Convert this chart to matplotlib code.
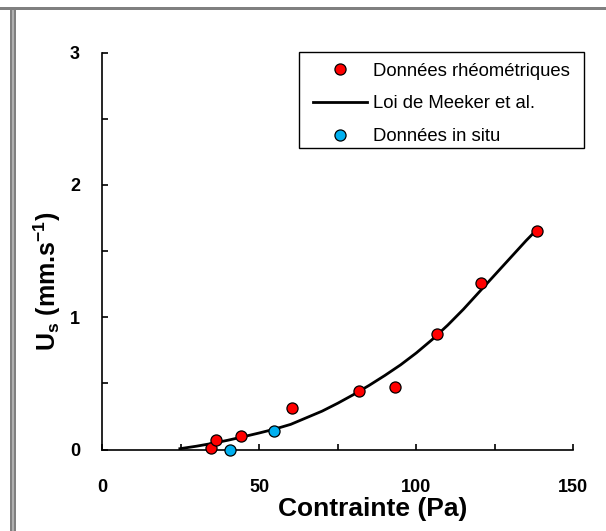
import matplotlib
matplotlib.use("Agg")
import matplotlib.pyplot as plt
from matplotlib.patches import Rectangle
from matplotlib.ticker import MultipleLocator

plt.rcParams['font.family'] = ['Liberation Sans', 'DejaVu Sans']
plt.rcParams['mathtext.fontset'] = 'custom'
plt.rcParams['mathtext.rm'] = 'Liberation Sans:bold'
plt.rcParams['mathtext.bf'] = 'Liberation Sans:bold'
plt.rcParams['mathtext.it'] = 'Liberation Sans:bold'
plt.rcParams['mathtext.default'] = 'bf'

# rheometric data (red)
rheo_x = [34.5, 36.2, 44.1, 60.5, 81.7, 93.3, 106.5, 120.5, 138.3]
rheo_y = [0.01, 0.07, 0.10, 0.31, 0.44, 0.47, 0.87, 1.26, 1.65]

# in situ data (blue)
insitu_x = [40.7, 54.8]
insitu_y = [0.0, 0.14]

# Meeker et al. law
meeker_x = [24.7, 30, 35, 40, 45, 50, 55, 60, 65, 70, 75, 80, 85, 90, 95,
            100, 105, 110, 115, 120, 125, 130, 135, 138.3]
meeker_y = [0.006, 0.025, 0.046, 0.07, 0.097, 0.125, 0.155, 0.19, 0.24, 0.29,
            0.35, 0.415, 0.485, 0.56, 0.64, 0.73, 0.83, 0.94, 1.06, 1.19,
            1.32, 1.45, 1.58, 1.66]

W, H = 606, 531
fig = plt.figure(figsize=(W / 100, H / 100), dpi=100)
ax = fig.add_axes([102.3 / W, 1 - 449.5 / H, (573.3 - 102.3) / W, (449.5 - 52.7) / H])

ax.plot(meeker_x, meeker_y, color='black', lw=2.0, label='Loi de Meeker et al.',
        solid_joinstyle='round', zorder=2)
ax.plot(rheo_x, rheo_y, 'o', ms=8, mfc='#FF0000', mec='black', mew=0.9,
        label='Données rhéométriques', clip_on=False, zorder=3)
ax.plot(insitu_x, insitu_y, 'o', ms=8, mfc='#00B0F0', mec='black', mew=0.9,
        label='Données in situ', clip_on=False, zorder=3)

ax.set_xlim(0, 150)
ax.set_ylim(0, 3)
ax.xaxis.set_major_locator(MultipleLocator(50))
ax.xaxis.set_minor_locator(MultipleLocator(25))
ax.yaxis.set_major_locator(MultipleLocator(1))
ax.yaxis.set_minor_locator(MultipleLocator(0.5))

for s in ['top', 'right']:
    ax.spines[s].set_visible(False)
for s in ['left', 'bottom']:
    ax.spines[s].set_linewidth(1.2)

ax.tick_params(which='both', direction='in', length=4, width=1.2)
ax.tick_params(axis='x', which='major', pad=21, labelsize=13)
ax.tick_params(axis='y', which='major', pad=16, labelsize=13)
for lab in ax.get_xticklabels() + ax.get_yticklabels():
    lab.set_fontweight('bold')

fig.text(373 / W, 1 - 509 / H, 'Contrainte (Pa)', fontsize=19, fontweight='bold',
         ha='center', va='center')
fig.text(47 / W, 1 - 281 / H, 'U$_{s}$ (mm.s$^{-1}$)', fontsize=18, fontweight='bold',
         ha='center', va='center', rotation=90)

# legend
handles, labels = ax.get_legend_handles_labels()
order = [1, 0, 2]
leg = fig.legend([handles[i] for i in order], [labels[i] for i in order],
                 loc='upper left', bbox_to_anchor=(307.5 / W, 1 - 57 / H),
                 frameon=False, fontsize=13.3, handlelength=2.9,
                 handletextpad=0.35, labelspacing=0.86, borderpad=0.3,
                 borderaxespad=0)
fig.add_artist(Rectangle((299 / W, 1 - 148 / H), 285 / W, 96 / H,
                         transform=fig.transFigure, fill=False,
                         edgecolor='black', lw=1.0))

# gray window frame
fig.add_artist(Rectangle((0, 1 - 10 / H), 1, 2.5 / H, transform=fig.transFigure,
                         facecolor='#808080', edgecolor='none'))
fig.add_artist(Rectangle((10 / W, 0), 6 / W, 1 - 8 / H, transform=fig.transFigure,
                         facecolor='#808080', edgecolor='none'))
fig.add_artist(Rectangle((12 / W, 0), 1.5 / W, 1 - 10 / H, transform=fig.transFigure,
                         facecolor='#b0b0b0', edgecolor='none'))

fig.savefig('out.png', dpi=100)
